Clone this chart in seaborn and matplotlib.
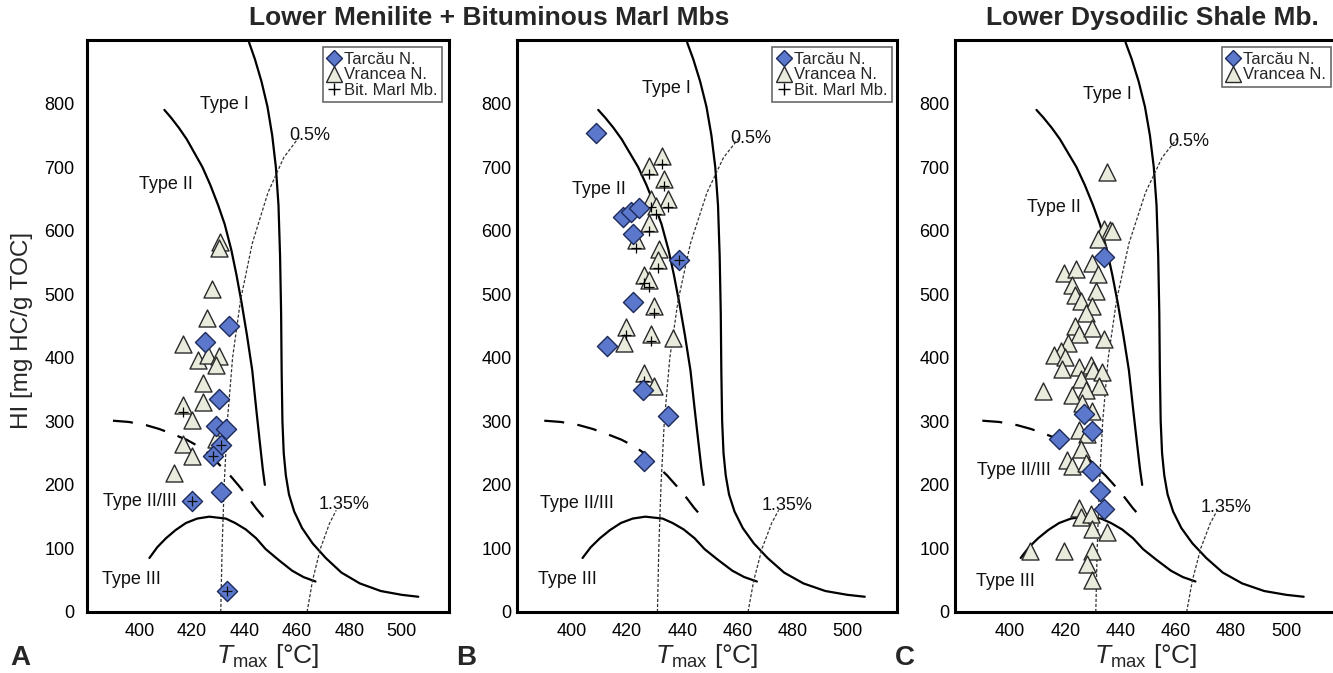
import numpy as np
import pandas as pd
import matplotlib
matplotlib.use("Agg")
import matplotlib.pyplot as plt
import seaborn as sns
from matplotlib.lines import Line2D

sns.set_style("white")
plt.rcParams['font.family'] = ['Liberation Sans', 'DejaVu Sans']
plt.rcParams['mathtext.fontset'] = 'custom'
plt.rcParams['mathtext.rm'] = 'Liberation Sans'
plt.rcParams['mathtext.it'] = 'Liberation Sans:italic'

# ---------------- data ----------------
# Panel A  (Lower Menilite + Bituminous Marl)
a_tar_t = [434, 425, 430.5, 429, 433, 431, 428, 431, 420, 433.5]
a_tar_hi = [450, 425, 335, 293, 288, 262, 245, 189, 175, 33]
a_tar_bm = [0, 0, 0, 0, 0, 1, 1, 0, 1, 1]
a_vra_t = [430.8, 430.5, 427.8, 425.9, 416.5, 422.2, 426, 430.2, 429.2, 424.4, 424.4, 416.5, 420.2, 416.5, 420.0, 413.2, 429]
a_vra_hi = [582, 572, 509, 463, 422, 397, 405, 403, 388, 360, 330, 326, 302, 265, 245, 218, 272]
a_vra_bm = [0, 0, 0, 0, 0, 0, 0, 0, 0, 0, 0, 1, 0, 0, 0, 0, 0]

# Panel B
b_tar_t = [408.8, 418.5, 421.3, 424.4, 422.3, 439.0, 422.3, 412.8, 425.6, 434.8, 426.2]
b_tar_hi = [753, 621, 630, 635, 595, 554, 488, 418, 349, 308, 238]
b_tar_bm = [0, 0, 0, 0, 0, 1, 0, 0, 0, 0, 0]
b_vra_t = [432.6, 427.8, 433.3, 428.7, 434.8, 430.5, 427.8, 423.2, 431.7, 431.3, 426.2, 428.0, 429.6, 419.5, 418.7, 428.7, 436.6, 426.2, 429.9]
b_vra_hi = [717, 701, 682, 650, 650, 639, 612, 585, 571, 554, 530, 523, 482, 448, 424, 438, 431, 376, 356]
b_vra_bm = [1, 1, 1, 1, 1, 1, 1, 1, 0, 1, 1, 1, 1, 1, 0, 1, 0, 1, 0]

# Panel C  (Lower Dysodilic Shale)
c_tar_t = [433.9, 426.7, 429.7, 417.8, 429.7, 432.7, 433.9]
c_tar_hi = [558, 311, 285, 272, 222, 190, 162]
c_vra_t = [435.2, 434.0, 436.0, 436.7, 431.9, 429.5, 419.4, 423.9, 431.9, 422.2, 423.6, 430.9, 425.5,
           429.7, 427.5, 423.4, 424.8, 429.5, 433.9, 421.0, 418.4, 415.8, 420.0, 418.8, 424.8, 429.1,
           429.9, 433.1, 411.9, 425.5, 432.0, 427.3, 422.4, 426.1, 429.5, 424.8, 427.9, 425.8, 420.6,
           422.4, 427.3, 424.8, 425.5, 429.1, 429.7, 435.2, 407.0, 419.6, 429.7, 427.9, 429.5]
c_vra_hi = [693, 602, 601, 599, 587, 549, 534, 539, 532, 515, 498, 505, 490,
            481, 470, 450, 437, 447, 430, 423, 411, 404, 401, 382, 386, 389,
            381, 377, 348, 367, 355, 349, 341, 329, 317, 287, 280, 256, 239,
            229, 235, 164, 150, 154, 130, 126, 96, 96, 96, 76, 51]

# Kerogen type / vitrinite reflectance curves
type1_t = [441.8, 444.0, 446.5, 448.8, 450.6, 452.0, 453.0, 453.6, 454.0, 454.2, 454.5, 455.0,
           455.8, 457.0, 459.0, 462.0, 466.0, 471.0, 477.0, 484.0, 492.0, 500.0, 506.3]
type1_hi = [896, 870, 835, 795, 750, 700, 640, 560, 470, 380, 300, 250,
            215, 185, 158, 132, 108, 85, 62, 45, 33, 27, 24]
type2_t = [409.5, 412.0, 415.0, 418.0, 421.0, 424.0, 427.0, 430.0, 432.5, 435.0, 437.0, 439.0,
           441.0, 443.0, 444.5, 445.8, 447.0, 447.8]
type2_hi = [790, 778, 762, 744, 722, 700, 672, 640, 610, 570, 530, 485,
            435, 380, 320, 270, 225, 200]
type23_t = [389.9, 396, 402.5, 407.5, 412.7, 418, 422.8, 426.8, 430.4, 434.5, 438.0, 441.5, 444.3, 448.3]
type23_hi = [301, 299, 294, 288, 280, 271, 260, 248, 232, 215, 198, 180, 164, 144]
type3_t = [403.8, 406.8, 410.1, 413.8, 417.7, 422, 426.6, 432.9, 436.5, 440.5, 444.5, 448.1, 453, 458.2, 462.5, 467.1]
type3_hi = [85, 102, 116, 129, 140, 147, 150, 147, 140, 130, 116, 99, 82, 65, 55, 48]
ro05_t = [431.0, 431.5, 432.3, 433.5, 435.5, 438.5, 443.0, 449.0, 455.0, 461.0]
ro05_hi = [0, 100, 200, 300, 400, 490, 580, 660, 715, 748]
ro135_t = [463.9, 466.0, 469.0, 472.5, 475.0]
ro135_hi = [0, 50, 100, 140, 160]

xticks = [400, 420, 440, 460, 480, 500]
yticks = [0, 100, 200, 300, 400, 500, 600, 700, 800]

TAR_FILL = '#5B78CD'
TAR_EDGE = '#1E2A5A'
VRA_FILL = '#E9EBDC'
VRA_EDGE = '#2A2A2A'

fig = plt.figure(figsize=(13.33, 6.73), dpi=100)
W, H = 1333, 673


def px_axes(left, right, top, bottom):
    return fig.add_axes([left / W, 1 - bottom / H, (right - left) / W, (bottom - top) / H])


axA = px_axes(87, 449, 40, 612)
axB = px_axes(517, 897, 40, 612)
axC = px_axes(955, 1336, 40, 612)


def draw_curves(ax):
    kw = dict(sort=False, estimator=None, ax=ax, legend=False)
    sns.lineplot(x=type1_t, y=type1_hi, color='black', lw=1.6, **kw)
    sns.lineplot(x=type2_t, y=type2_hi, color='black', lw=1.6, **kw)
    sns.lineplot(x=type3_t, y=type3_hi, color='black', lw=1.6, **kw)
    sns.lineplot(x=type23_t, y=type23_hi, color='black', lw=1.6, **kw)
    ax.lines[-1].set_dashes([9, 6])
    sns.lineplot(x=ro05_t, y=ro05_hi, color='#333333', lw=0.9, **kw)
    ax.lines[-1].set_dashes([2.5, 1.5])
    sns.lineplot(x=ro135_t, y=ro135_hi, color='#333333', lw=0.9, **kw)
    ax.lines[-1].set_dashes([2.5, 1.5])


def draw_points(ax, tar_t, tar_hi, tar_bm, vra_t, vra_hi, vra_bm):
    dv = pd.DataFrame({'t': vra_t, 'hi': vra_hi, 'bm': vra_bm})
    sns.scatterplot(data=dv, x='t', y='hi', marker='^', s=150, color=VRA_FILL,
                    edgecolor=VRA_EDGE, linewidth=1.0, ax=ax, zorder=3, legend=False)
    sub = dv[dv.bm == 1]
    if len(sub):
        sns.scatterplot(data=sub, x='t', y=sub.hi - 12, marker='+', s=45, color='black',
                        linewidth=0.9, ax=ax, zorder=4, legend=False)
    dt = pd.DataFrame({'t': tar_t, 'hi': tar_hi, 'bm': tar_bm})
    sns.scatterplot(data=dt, x='t', y='hi', marker='D', s=105, color=TAR_FILL,
                    edgecolor=TAR_EDGE, linewidth=1.0, ax=ax, zorder=5, legend=False)
    sub = dt[dt.bm == 1]
    if len(sub):
        sns.scatterplot(data=sub, x='t', y='hi', marker='+', s=45, color='#111111',
                        linewidth=0.9, ax=ax, zorder=6, legend=False)


def style_axes(ax, ytick_dir='in'):
    ax.set_xlim(380, 518)
    ax.set_ylim(0, 900)
    ax.set_xticks(xticks)
    ax.set_yticks(yticks)
    ax.tick_params(axis='x', direction='in', length=5, width=1.2, labelsize=13, pad=8, colors='black')
    ax.tick_params(axis='y', direction=ytick_dir, length=5, width=1.2, labelsize=13, pad=4, colors='black')
    for sp in ax.spines.values():
        sp.set_linewidth(2.2)
        sp.set_color('black')
    ax.set_xlabel(r'$T_{\mathrm{max}}$ [°C]', fontsize=19, labelpad=1)
    ax.set_ylabel('')


def labels(ax, pos):
    for txt, (x, y) in pos.items():
        ax.text(x, y, txt, fontsize=13, ha='center', va='center', color='#111111', zorder=2)


def legend(ax, with_bm=True, anchor=(0.99, 0.99)):
    handles = [Line2D([], [], marker='D', ls='', markersize=8.5, markerfacecolor=TAR_FILL,
                      markeredgecolor=TAR_EDGE, markeredgewidth=1.0, label='Tarcău N.'),
               Line2D([], [], marker='^', ls='', markersize=11, markerfacecolor=VRA_FILL,
                      markeredgecolor=VRA_EDGE, markeredgewidth=1.0, label='Vrancea N.')]
    if with_bm:
        handles.append(Line2D([], [], marker='+', ls='', markersize=8, color='black',
                              markeredgewidth=1.0, label='Bit. Marl Mb.'))
    lg = ax.legend(handles=handles, loc='upper right', bbox_to_anchor=anchor,
                   fontsize=12, frameon=True, fancybox=False, handlelength=0.9,
                   handletextpad=0.15, borderpad=0.25, labelspacing=0.05, borderaxespad=0.1)
    lg.get_frame().set_edgecolor('#444444')
    lg.get_frame().set_linewidth(1.2)
    lg.set_zorder(10)


for ax in (axA, axB, axC):
    draw_curves(ax)

draw_points(axA, a_tar_t, a_tar_hi, a_tar_bm, a_vra_t, a_vra_hi, a_vra_bm)
draw_points(axB, b_tar_t, b_tar_hi, b_tar_bm, b_vra_t, b_vra_hi, b_vra_bm)
draw_points(axC, c_tar_t, c_tar_hi, [0] * len(c_tar_t), c_vra_t, c_vra_hi, [0] * len(c_vra_t))

style_axes(axA, 'out')
style_axes(axB, 'in')
style_axes(axC, 'in')

labels(axA, {'Type I': (432.3, 799), 'Type II': (410.1, 673), 'Type II/III': (400, 174),
             'Type III': (397, 51), '0.5%': (465, 749), '1.35%': (478, 169)})
labels(axB, {'Type I': (434.1, 824), 'Type II': (409.8, 665), 'Type II/III': (401.6, 171),
             'Type III': (398.2, 51), '0.5%': (465, 745), '1.35%': (478, 168)})
labels(axC, {'Type I': (435.2, 814), 'Type II': (415.8, 636), 'Type II/III': (401.2, 222),
             'Type III': (398.4, 48), '0.5%': (464.5, 741), '1.35%': (478.2, 165)})

legend(axA, True, (0.985, 0.99))
legend(axB, True, (0.99, 0.99))
legend(axC, False, (0.99, 0.99))

fig.text(22 / W, 1 - 330 / H, 'HI [mg HC/g TOC]', rotation=90, fontsize=17.5, ha='center', va='center')
fig.text(489 / W, 1 - 18 / H, 'Lower Menilite + Bituminous Marl Mbs', fontsize=19,
         fontweight='bold', ha='center', va='center')
fig.text(1152 / W, 1 - 18 / H, 'Lower Dysodilic Shale Mb.', fontsize=19,
         fontweight='bold', ha='center', va='center')
for lbl, x in (('A', 20), ('B', 466), ('C', 905)):
    fig.text(x / W, 1 - 658 / H, lbl, fontsize=20, fontweight='bold', ha='center', va='center')

fig.savefig('out.png', dpi=100)
